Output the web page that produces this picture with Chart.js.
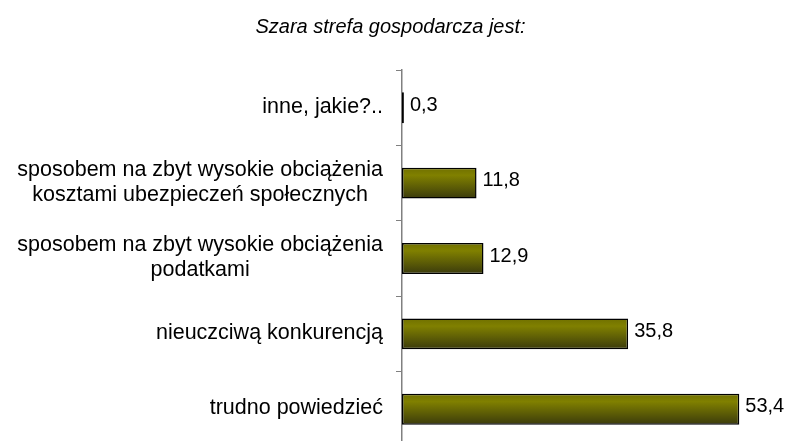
<!DOCTYPE html>
<html>
<head>
<meta charset="utf-8">
<script src="https://cdn.jsdelivr.net/npm/chart.js@4"></script>
<style>
html,body{margin:0;padding:0;background:#fff;overflow:hidden;}
#wrap{width:787px;height:441px;position:relative;overflow:hidden;}
</style>
</head>
<body>
<div id="wrap"><canvas id="c" width="787" height="448"></canvas></div>
<script>
const titleText = "Szara strefa gospodarcza jest:";
const categories = [
  ["inne, jakie?.."],
  ["sposobem na zbyt wysokie obciążenia", "kosztami ubezpieczeń społecznych"],
  ["sposobem na zbyt wysokie obciążenia", "podatkami"],
  ["nieuczciwą konkurencją"],
  ["trudno powiedzieć"]
];
const values = [0.3, 11.8, 12.9, 35.8, 53.4];
const valueLabels = ["0,3", "11,8", "12,9", "35,8", "53,4"];

const FONT = "'Liberation Sans', Arial, sans-serif";

function barFill(context) {
  const chart = context.chart;
  const y = chart.scales && chart.scales.y;
  if (!chart.chartArea || !y || context.dataIndex === undefined) return '#7a7a00';
  const cy = y.getPixelForValue(context.dataIndex);
  const h = 31;
  const g = chart.ctx.createLinearGradient(0, cy - h / 2, 0, cy + h / 2);
  g.addColorStop(0, '#707000');
  g.addColorStop(0.25, '#808000');
  g.addColorStop(1, '#3a3a0c');
  return g;
}

const labelPlugin = {
  id: 'labels',
  afterDraw(chart) {
    const ctx = chart.ctx;
    const y = chart.scales.y;
    const x = chart.scales.x;
    ctx.save();
    ctx.fillStyle = '#000';
    ctx.font = '21.5px ' + FONT;
    ctx.textBaseline = 'middle';
    const lh = 25;
    categories.forEach((lines, i) => {
      const cy = y.getPixelForValue(i);
      let w = 0;
      lines.forEach(l => { w = Math.max(w, ctx.measureText(l).width); });
      const cx = 383 - w / 2;
      ctx.textAlign = 'center';
      lines.forEach((l, k) => {
        ctx.fillText(l, cx, cy - 1 + (k - (lines.length - 1) / 2) * lh);
      });
    });
    ctx.font = '20px ' + FONT;
    ctx.textAlign = 'left';
    values.forEach((v, i) => {
      const px = x.getPixelForValue(v);
      const cy = y.getPixelForValue(i);
      ctx.fillText(valueLabels[i], px + 6, cy - 2.5);
    });
    ctx.restore();
  }
};

new Chart(document.getElementById('c'), {
  type: 'bar',
  data: {
    labels: categories,
    datasets: [{
      data: values,
      backgroundColor: barFill,
      borderColor: '#000',
      borderWidth: 1.5,
      borderSkipped: false,
      barPercentage: 0.41,
      categoryPercentage: 1
    }]
  },
  options: {
    indexAxis: 'y',
    responsive: false,
    animation: false,
    devicePixelRatio: 1,
    layout: { padding: { top: 0, bottom: 1, right: 6, left: 0 } },
    plugins: {
      legend: { display: false },
      tooltip: { enabled: false },
      title: {
        display: true,
        text: titleText,
        color: '#000',
        font: { family: FONT, size: 20, style: 'italic', weight: 'normal', lineHeight: 1.2 },
        padding: { top: 15, bottom: 31 }
      }
    },
    scales: {
      x: {
        display: false,
        min: 0,
        max: 60
      },
      y: {
        offset: true,
        afterFit(s) { s.width = 402; },
        ticks: { display: false },
        grid: {
          offset: true,
          drawOnChartArea: false,
          drawTicks: true,
          tickLength: 6,
          color: '#808080',
          lineWidth: 1
        },
        border: { display: true, color: '#808080', width: 1.5 }
      }
    }
  },
  plugins: [labelPlugin]
});
</script>
</body>
</html>
